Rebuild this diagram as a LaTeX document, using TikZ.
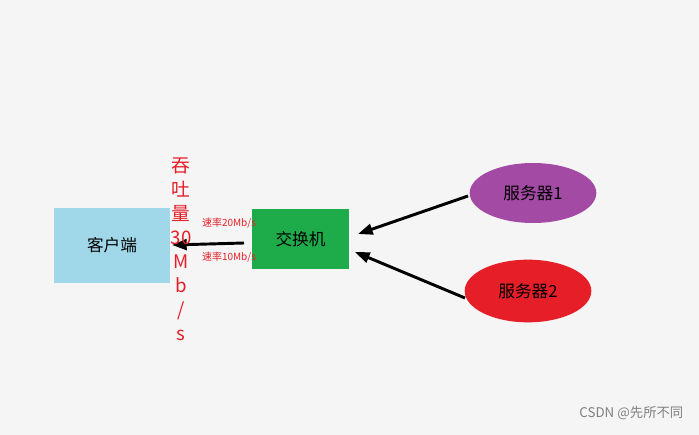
\documentclass[tikz,border=0pt]{standalone}
\usepackage{fontspec}
\newfontfamily\cjk{Noto Sans CJK SC}
\usetikzlibrary{arrows.meta,shapes.geometric}
\begin{document}
\begin{tikzpicture}[x=0.75pt,y=-0.75pt,
  lbl/.style={font=\cjk\fontsize{12.5}{14}\selectfont,text=black},
  conn/.style={draw=black,line width=2.2pt,-{Triangle[length=11pt,width=8pt]}},
  red/.style={font=\cjk\fontsize{7.5}{9}\selectfont,text={rgb,255:red,230;green,30;blue,40}}]
\fill[white!96!black] (0,0) rectangle (699,435);
\useasboundingbox (0,0) rectangle (699,435);
\node[lbl,fill={rgb,255:red,160;green,216;blue,234},minimum width=87pt,minimum height=56pt] (c) at (112,245.5) {客户端};
\node[lbl,fill={rgb,255:red,30;green,172;blue,74},minimum width=73pt,minimum height=45pt] (sw) at (300.5,239) {交换机};
\node[lbl,ellipse,fill={rgb,255:red,163;green,74;blue,164},minimum width=95pt,minimum height=45pt,inner sep=0pt] (s1) at (533,193) {服务器1};
\node[lbl,ellipse,fill={rgb,255:red,230;green,30;blue,40},minimum width=95pt,minimum height=47pt,inner sep=0pt] (s2) at (528,291) {服务器2};
\coordinate (a1) at (244,243); \coordinate (a2) at (172,245);
\draw[conn] (a1) -- (a2);
\coordinate (b1) at (468,196); \coordinate (b2) at (358,234);
\draw[conn] (b1) -- (b2);
\coordinate (d1) at (465,298); \coordinate (d2) at (355,252);
\draw[conn] (d1) -- (d2);
\node[font=\cjk\fontsize{14}{18}\selectfont,text={rgb,255:red,230;green,30;blue,40},align=center,inner sep=0pt] (v) at (181,249) {吞\\吐\\量\\30\\M\\b\\/\\s};
\node[red] (l1) at (229,223) {速率20Mb/s};
\node[red] (l2) at (229,257) {速率10Mb/s};
\node[font=\cjk\fontsize{10}{12}\selectfont,text=gray,anchor=east] (wm) at (688,413) {CSDN @先所不同};
\end{tikzpicture}
\end{document}
